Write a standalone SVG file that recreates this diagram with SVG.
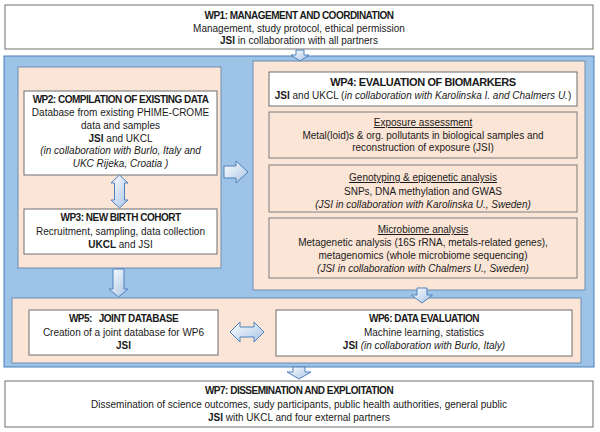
<svg xmlns="http://www.w3.org/2000/svg" width="600" height="432" viewBox="0 0 600 432">
<defs>
<linearGradient id="arrowGrad" x1="0" y1="0" x2="1" y2="1">
<stop offset="0" stop-color="#ffffff"/>
<stop offset="1" stop-color="#a7c4e6"/>
</linearGradient>
<style>
.white{fill:#ffffff;stroke:#6e6e6e;stroke-width:1}
.peachbox{fill:#fbe5d6;stroke:#7f7f7f;stroke-width:1}
.peachgrp{fill:#fbe5d6;stroke:#6f8db3;stroke-width:1}
.blue{fill:#9dc3e6;stroke:#4a7ebb;stroke-width:1}
.arrow{fill:url(#arrowGrad);stroke:#4f81bd;stroke-width:1;stroke-linejoin:miter}
text{font-family:"Liberation Sans",Arial,sans-serif;font-size:10px;fill:#1a1a1a;text-anchor:middle}
.t{font-weight:bold;letter-spacing:-0.5px}
.t4{font-weight:bold;font-size:11px;letter-spacing:-0.4px}
.b{font-weight:bold}
.i{font-style:italic}
.u{text-decoration:underline}
</style>
</defs>
<rect width="600" height="432" fill="#ffffff"/>

<g id="wp1">
<rect class="white" x="5" y="5" width="588" height="44"/>
<text class="t" x="299" y="19">WP1: MANAGEMENT AND COORDINATION</text>
<text x="299" y="31.5">Management, study protocol, ethical permission</text>
<text x="299" y="44"><tspan class="b">JSI</tspan> in collaboration with all partners</text>
</g>

<g id="main-panel">
<rect class="blue" x="4" y="56" width="590" height="311"/>
</g>

<g id="group-wp2-wp3">
<rect class="peachgrp" x="18" y="67" width="203" height="201"/>
</g>

<g id="wp2">
<rect class="white" x="24" y="91" width="193" height="84"/>
<text class="t" x="120.5" y="103">WP2: COMPILATION OF EXISTING DATA</text>
<text x="120.5" y="116">Database from existing PHIME-CROME</text>
<text x="120.5" y="129">data and samples</text>
<text x="120.5" y="141.5"><tspan class="b">JSI</tspan> and UKCL</text>
<text class="i" x="120.5" y="154">(in collaboration with Burlo, Italy and</text>
<text class="i" x="120.5" y="166.5">UKC Rijeka, Croatia )</text>
</g>

<g id="wp3">
<rect class="white" x="24" y="209" width="193" height="45"/>
<text class="t" x="120.5" y="221">WP3: NEW BIRTH COHORT</text>
<text x="120.5" y="234.5">Recruitment, sampling, data collection</text>
<text x="120.5" y="247.5"><tspan class="b">UKCL</tspan> and JSI</text>
</g>

<g id="wp4">
<rect class="peachgrp" x="253" y="61" width="332" height="229"/>
<rect class="white" x="269" y="72" width="308" height="34"/>
<text class="t4" x="423" y="86">WP4: EVALUATION OF BIOMARKERS</text>
<text x="423" y="99"><tspan class="b">JSI</tspan> and UKCL (<tspan class="i">in collaboration with Karolinska I. and Chalmers U.</tspan>)</text>
</g>

<g id="wp4-exposure">
<rect class="peachbox" x="269" y="112" width="308" height="46"/>
<text class="u" x="423" y="126">Exposure assessment</text>
<text x="423" y="138.5">Metal(loid)s &amp; org. pollutants in biological samples and</text>
<text x="423" y="151">reconstruction of exposure (JSI)</text>
</g>

<g id="wp4-genotyping">
<rect class="peachbox" x="269" y="165" width="308" height="47"/>
<text class="u" x="423" y="181">Genotyping &amp; epigenetic analysis</text>
<text x="423" y="194.5">SNPs, DNA methylation and GWAS</text>
<text class="i" x="423" y="207.5">(JSI in collaboration with Karolinska U., Sweden)</text>
</g>

<g id="wp4-microbiome">
<rect class="peachbox" x="269" y="218" width="308" height="60"/>
<text class="u" x="423" y="233">Microbiome analysis</text>
<text x="423" y="246">Metagenetic analysis (16S rRNA, metals-related genes),</text>
<text x="423" y="259">metagenomics (whole microbiome sequencing)</text>
<text class="i" x="423" y="272">(JSI in collaboration with Chalmers U., Sweden)</text>
</g>

<g id="group-wp5-wp6">
<rect class="peachgrp" x="12" y="298" width="569" height="65"/>
</g>

<g id="wp5">
<rect class="white" x="29" y="310" width="189" height="45"/>
<text class="t" x="123.5" y="322">WP5:&#160;&#160; JOINT DATABASE</text>
<text x="123.5" y="335.5">Creation of a joint database for WP6</text>
<text class="b" x="123.5" y="348.5">JSI</text>
</g>

<g id="wp6">
<rect class="white" x="276" y="310" width="296" height="46"/>
<text class="t" x="424" y="322">WP6: DATA EVALUATION</text>
<text x="424" y="335.5">Machine learning, statistics</text>
<text x="424" y="348.5"><tspan class="b">JSI</tspan> <tspan class="i">(in collaboration with Burlo, Italy)</tspan></text>
</g>

<g id="wp7">
<rect class="white" x="5" y="381" width="588" height="46"/>
<text class="t" x="299" y="394">WP7: DISSEMINATION AND EXPLOITATION</text>
<text x="299" y="407.5">Dissemination of science outcomes, sudy participants, public health authorities, general public</text>
<text x="299" y="420.5"><tspan class="b">JSI</tspan> with UKCL and four external partners</text>
</g>

<g id="connectors">
<polygon class="arrow" points="296,50 304,50 304,55 309,55 300,61 291,55 296,55"/>
<polygon class="arrow" points="119.5,175 128,183 124.5,183 124.5,200 128,200 119.5,208 111,200 114.5,200 114.5,183 111,183"/>
<polygon class="arrow" points="224,166 236,166 236,161 248,172 236,183 236,178 224,178"/>
<polygon class="arrow" points="113,269 124,269 124,289 128,289 118.5,297 109,289 113,289"/>
<polygon class="arrow" points="417,288 427,288 427,295 432.5,295 422,303 411.5,295 417,295"/>
<polygon class="arrow" points="230,332 240,322 240,327 254,327 254,322 264,332 254,342 254,337 240,337 240,342"/>
<polygon class="arrow" points="293,367 305,367 305,372 311,372 299,379 287,372 293,372"/>
</g>
</svg>
